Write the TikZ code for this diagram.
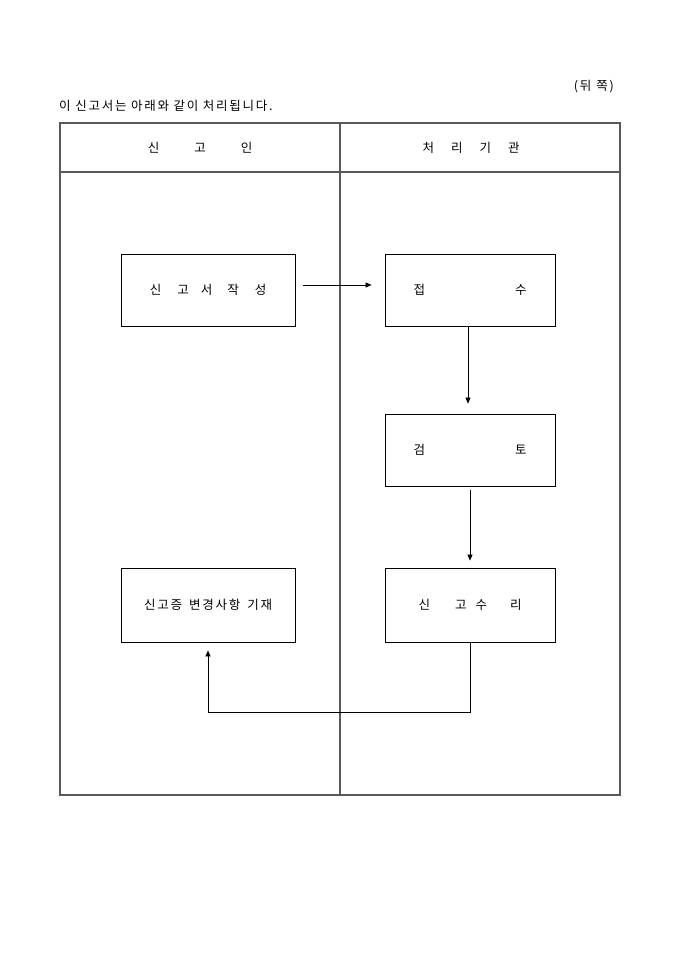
\documentclass[tikz,border=0pt]{standalone}
\usepackage{fontspec}
\setmainfont[LetterSpace=14]{Noto Sans CJK KR}
\usetikzlibrary{arrows.meta}
\begin{document}
\begin{tikzpicture}[x=1pt,y=-1pt,
  tline/.style={line width=1.2pt,draw=black!65},
  box/.style={draw=black,line width=0.8pt,rectangle,inner sep=0pt,font=\fontsize{12.5}{14}\selectfont},
  lbl/.style={inner sep=0pt,font=\fontsize{12.5}{14}\selectfont},
  arr/.style={line width=0.7pt,-{Triangle[length=6pt,width=5pt]}}]
\useasboundingbox (0,0) rectangle (680,962);
% top texts
\node[lbl,anchor=east] (side) at (614,87) {(뒤\hspace{5pt}쪽)};
\node[lbl,anchor=west] (intro) at (59,106) {이 신고서는 아래와 같이 처리됩니다.};
% table
\draw[tline] (60,123) rectangle (620,795);
\draw[tline] (340,123) -- (340,795);
\draw[tline] (60,172) -- (620,172);
\node[lbl] (h1) at (200,148) {신\hspace{35pt}고\hspace{35pt}인};
\node[lbl] (h2) at (471,148) {처\hspace{17pt}리\hspace{17pt}기\hspace{17pt}관};
% boxes
\node[box,minimum width=174pt,minimum height=72pt] (b1) at (208,290) {신\hspace{16pt}고\hspace{12pt}서\hspace{15pt}작\hspace{16pt}성};
\node[box,minimum width=170pt,minimum height=72pt] (b2) at (470,290) {접\hspace{90pt}수};
\node[box,minimum width=170pt,minimum height=72pt] (b3) at (470,450) {검\hspace{90pt}토};
\node[box,minimum width=170pt,minimum height=74pt] (b4) at (470,605) {신\hspace{25pt}고\hspace{9pt}수\hspace{23pt}리};
\node[box,minimum width=174pt,minimum height=74pt] (b5) at (208,605) {신고증\hspace{7pt}변경사항\hspace{7pt}기재};
% connectors
\draw[arr] ([xshift=8pt,yshift=5pt]b1.east) -- ([xshift=-13pt,yshift=5pt]b2.west);
\draw[arr] ([xshift=-2pt]b2.south) -- ([xshift=-2pt,yshift=10pt]b3.north);
\draw[arr] ([yshift=-4pt]b3.south) -- ([yshift=7pt]b4.north);
\coordinate (c1) at (470,712);
\coordinate (c2) at (208,712);
\draw[arr] (b4.south) -- (c1) -- (c2) -- ([yshift=-8pt]b5.south);
\end{tikzpicture}
\end{document}
